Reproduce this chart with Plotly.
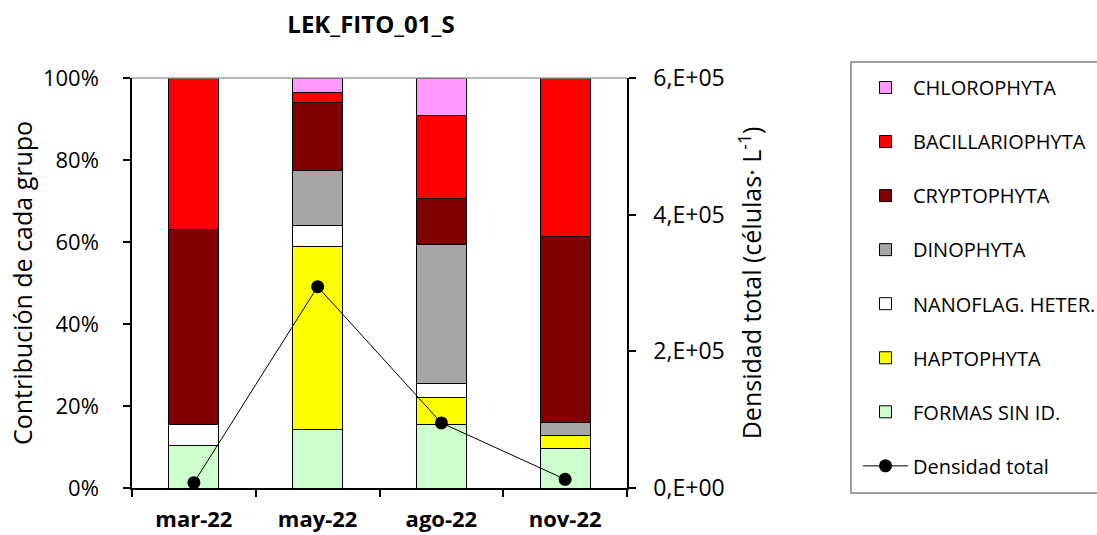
import plotly.graph_objects as go

# ---- data ----
categories = ["mar-22", "may-22", "ago-22", "nov-22"]

groups = ["FORMAS SIN ID.", "HAPTOPHYTA", "NANOFLAG. HETER.", "DINOPHYTA",
          "CRYPTOPHYTA", "BACILLARIOPHYTA", "CHLOROPHYTA"]

formas_sin_id = [10.3, 14.3, 15.5, 9.6]
haptophyta = [0.0, 44.6, 6.6, 3.2]
nanoflag_heter = [5.3, 5.2, 3.4, 0.0]
dinophyta = [0.0, 13.4, 34.0, 3.2]
cryptophyta = [47.4, 16.5, 11.2, 45.4]
bacillariophyta = [37.0, 2.4, 20.1, 38.6]
chlorophyta = [0.0, 3.6, 9.2, 0.0]

densidad_total = [7800, 294600, 95300, 12700]

left_tickvals = [0, 20, 40, 60, 80, 100]
left_ticktext = ["0%", "20%", "40%", "60%", "80%", "100%"]
right_tickvals = [0, 200000, 400000, 600000]
right_ticktext = ["0,E+00", "2,E+05", "4,E+05", "6,E+05"]

series = [formas_sin_id, haptophyta, nanoflag_heter, dinophyta,
          cryptophyta, bacillariophyta, chlorophyta]
colors = ["#CCFFCC", "#FFFF00", "#FFFFFF", "#A6A6A6",
          "#800000", "#FF0000", "#FF99FF"]
legend_rank = [7, 6, 5, 4, 3, 2, 1]

FONT = "Open Sans"

# figure geometry (page body margin removed below)
W, H = 1097, 535
ML, MR, MT, MB = 132, 470, 40, 47
PW = W - ML - MR          # 495
PH = H - MT - MB          # 448
YB = H - MB               # pixel row of the x axis (488)
YTOP = 410 / PH           # y-axis domain top

fig = go.Figure()
for name, vals, col, rk in zip(groups, series, colors, legend_rank):
    fig.add_trace(go.Bar(
        x=categories, y=vals, name=name,
        marker=dict(color=col, line=dict(color="#000000", width=1)),
        legendgroup=name, legendrank=rk, yaxis="y",
    ))

fig.add_trace(go.Scatter(
    x=categories, y=densidad_total, name="Densidad total",
    mode="lines+markers",
    line=dict(color="#000000", width=1),
    marker=dict(color="#000000", size=13),
    legendgroup="dens", legendrank=8, yaxis="y2",
))

axis_common = dict(showline=True, linecolor="#000000", linewidth=1.5,
                   ticks="outside", ticklen=7, tickwidth=1.5, tickcolor="#000000",
                   showgrid=False, zeroline=False)

fig.update_layout(
    width=W, height=H,
    paper_bgcolor="white", plot_bgcolor="white",
    barmode="stack", bargap=0.595,
    font=dict(family=FONT, color="#000000"),
    margin=dict(l=ML, r=MR, t=MT, b=MB, autoexpand=False),
    title=dict(text="<b>LEK_FITO_01_S</b>",
               font=dict(family=FONT, size=24, color="#000000"),
               x=(371 - ML) / PW, xref="paper", xanchor="center",
               y=1 - 25 / H, yref="container", yanchor="middle"),
    xaxis=dict(type="category", tickson="boundaries",
               tickfont=dict(family=FONT, size=22, color="#000000", weight="bold"),
               ticklabelstandoff=11, **axis_common),
    yaxis=dict(domain=[0, YTOP], range=[0, 100],
               tickvals=left_tickvals, ticktext=left_ticktext,
               tickfont=dict(family=FONT, size=22, color="#000000"),
               ticklabelstandoff=20,
               title=dict(text="Contribución de cada grupo",
                          font=dict(family=FONT, size=25, color="#000000"),
                          standoff=3),
               **axis_common),
    yaxis2=dict(range=[0, 600000], tickvals=right_tickvals, ticktext=right_ticktext,
                overlaying="y", side="right",
                tickfont=dict(family=FONT, size=23, color="#000000"),
                ticklabelstandoff=13,
                title=dict(text="Densidad total (células· L<sup>-1</sup>)",
                           font=dict(family=FONT, size=25, color="#000000"),
                           standoff=20),
                **axis_common),
    legend=dict(x=(858 - ML) / PW, y=(YB - 68) / PH, xanchor="left", yanchor="top",
                xref="paper", yref="paper",
                borderwidth=0, bgcolor="rgba(0,0,0,0)",
                font=dict(family=FONT, size=20, color="#000000"),
                traceorder="grouped", tracegroupgap=25.05, itemwidth=45),
    shapes=[
        # grey top border of the plot area
        dict(type="line", xref="paper", yref="y domain", x0=0, x1=1, y0=1, y1=1,
             line=dict(color="#A0A0A0", width=1.5)),
        # legend frame (runs off the right edge, as in the original)
        dict(type="rect", xref="paper", yref="paper",
             x0=(851 - ML) / PW, x1=(1300 - ML) / PW,
             y0=(YB - 493) / PH, y1=(YB - 62) / PH,
             line=dict(color="#808080", width=1.5), fillcolor="rgba(0,0,0,0)",
             layer="below"),
    ],
)

fig.write_html("out.html",
               config={"displayModeBar": False},
               post_script="document.body.style.margin='0';"
                           "document.body.style.overflow='hidden';")
